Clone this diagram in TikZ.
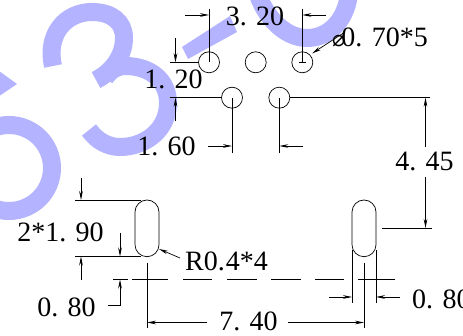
\documentclass[tikz,border=0pt]{standalone}
\usepackage{fontspec}
\setmainfont{Liberation Serif}
\newfontfamily\symfont{DejaVu Sans}
\usetikzlibrary{arrows.meta}
\definecolor{wm}{HTML}{B3B3FF}
\tikzset{
  wmark/.style={draw=wm,line width=18pt,line cap=butt},
  dimline/.style={draw=black,line width=0.7pt},
  dimarrow/.style={draw=black,line width=0.7pt,-{Stealth[length=9pt,width=3.6pt]}},
  outline/.style={draw=black,line width=0.7pt},
  dim/.style={font=\fontsize{28}{28}\selectfont,inner sep=0pt,text=black},
}
\begin{document}
\begin{tikzpicture}[x=1pt,y=-1pt]
\useasboundingbox (0,0) rectangle (463,336);
\clip (0,0) rectangle (463,336);
% watermark
\fill[wm] (-5,68) -- (17,84) -- (-5,99) -- cycle;
\draw[wmark] (9,168) circle[radius=43];
\draw[wmark] (53,66) .. controls (46,35) and (65,12) .. (92,12) .. controls (112,12) and (124,22) .. (124,38) .. controls (124,56) and (112,72) .. (96,80);
\draw[wmark] (105,78) .. controls (110,70) and (118,66) .. (125,66) .. controls (150,66) and (168,80) .. (168,103) .. controls (168,130) and (145,147) .. (120,147) .. controls (108,147) and (97,141) .. (89,130);
\fill[wm] (182,47) -- (230,16) -- (237,32) -- (188,59) -- cycle;
\draw[wmark] (258,-5) .. controls (268,22) and (288,38) .. (307,38) .. controls (328,38) and (345,22) .. (349,-5);
% holes
\draw[outline] (209,62.3) circle[radius=10.5];
\draw[outline] (255.7,62.3) circle[radius=10.5];
\draw[outline] (302.3,62.3) circle[radius=10.5];
\draw[outline] (232,97.7) circle[radius=10.5];
\draw[outline] (279.3,97.7) circle[radius=10.5];
\draw[outline] (299,62.3) -- (305.6,62.3);
% slots
\draw[outline] (135,212) arc[start angle=180,end angle=360,radius=12] -- (159,244.7) arc[start angle=0,end angle=180,radius=12] -- cycle;
\draw[outline] (352,212) arc[start angle=180,end angle=360,radius=12] -- (376,244.7) arc[start angle=0,end angle=180,radius=12] -- cycle;
% 3.20
\draw[dimline] (209,9) -- (209,62.3);
\draw[dimline] (302.3,9) -- (302.3,62.3);
\draw[dimarrow] (185,15) -- (209,15);
\draw[dimarrow] (326,15) -- (302.3,15);
% 1.20
\draw[dimline] (170,62.3) -- (198.5,62.3);
\draw[dimline] (170,97.7) -- (221.5,97.7);
\draw[dimarrow] (175.5,38) -- (175.5,62.3);
\draw[dimarrow] (175.5,121) -- (175.5,97.7);
% 1.60
\draw[dimline] (232,97.7) -- (232,153);
\draw[dimline] (279.3,97.7) -- (279.3,153);
\draw[dimarrow] (208,146) -- (232,146);
\draw[dimarrow] (303,146) -- (279.3,146);
% 4.45
\draw[dimline] (290,97.7) -- (430,97.7);
\draw[dimline] (382,228) -- (432,228);
\draw[dimarrow] (425.5,147) -- (425.5,97.7);
\draw[dimarrow] (425.5,177) -- (425.5,228);
% leader phi
\draw[dimarrow] (345,32) -- (312,53.5);
% 2*1.90
\draw[dimline] (75,200) -- (141,200);
\draw[dimline] (75,256.5) -- (141,256.5);
\draw[dimarrow] (81,178) -- (81,200);
\draw[dimarrow] (81,280) -- (81,256.5);
\draw[dimarrow] (120,233) -- (120,256.5);
% R0.4
\draw[dimarrow] (180,258) -- (159,249);
% center line
\foreach \a/\b in {113/128,132/168,183/212,227/257,271/301,315/344,358/395}
  \draw[dimline] (\a,279) -- (\b,279);
% 0.80 left
\draw[dimarrow] (108,305) -- (120,305) -- (120,279.5);
% 7.40
\draw[dimline] (147,263) -- (147,328);
\draw[dimline] (364,263) -- (364,328);
\draw[dimarrow] (207,322.5) -- (147,322.5);
\draw[dimarrow] (288,322.5) -- (364,322.5);
% 0.80 right
\draw[dimline] (352,250) -- (352,303);
\draw[dimline] (376,250) -- (376,303);
\draw[dimarrow] (329,297) -- (352,297);
\draw[dimarrow] (400,297) -- (376,297);
% texts
\node[dim] (t320) at (255,16) {3. 20};
\node[dim] (t120) at (173.5,79.5) {1. 20};
\node[dim] (t160) at (166.5,146.5) {1. 60};
\node[dim,anchor=west] (tphi) at (332,37.5) {{\symfont\fontsize{22}{22}\selectfont ⌀}\kern-4pt 0. 70*5};
\node[dim] (t445) at (424.5,161) {4. 45};
\node[dim] (t190) at (60.5,232) {2*1. 90};
\node[dim] (t080l) at (66.5,307) {0. 80};
\node[dim,anchor=west] (tr04) at (185,261.5) {R0.\kern1pt 4*4};
\node[dim] (t740) at (248.5,321) {7. 40};
\node[dim,anchor=west] (t080r) at (412,299) {0. 80};
\end{tikzpicture}
\end{document}
